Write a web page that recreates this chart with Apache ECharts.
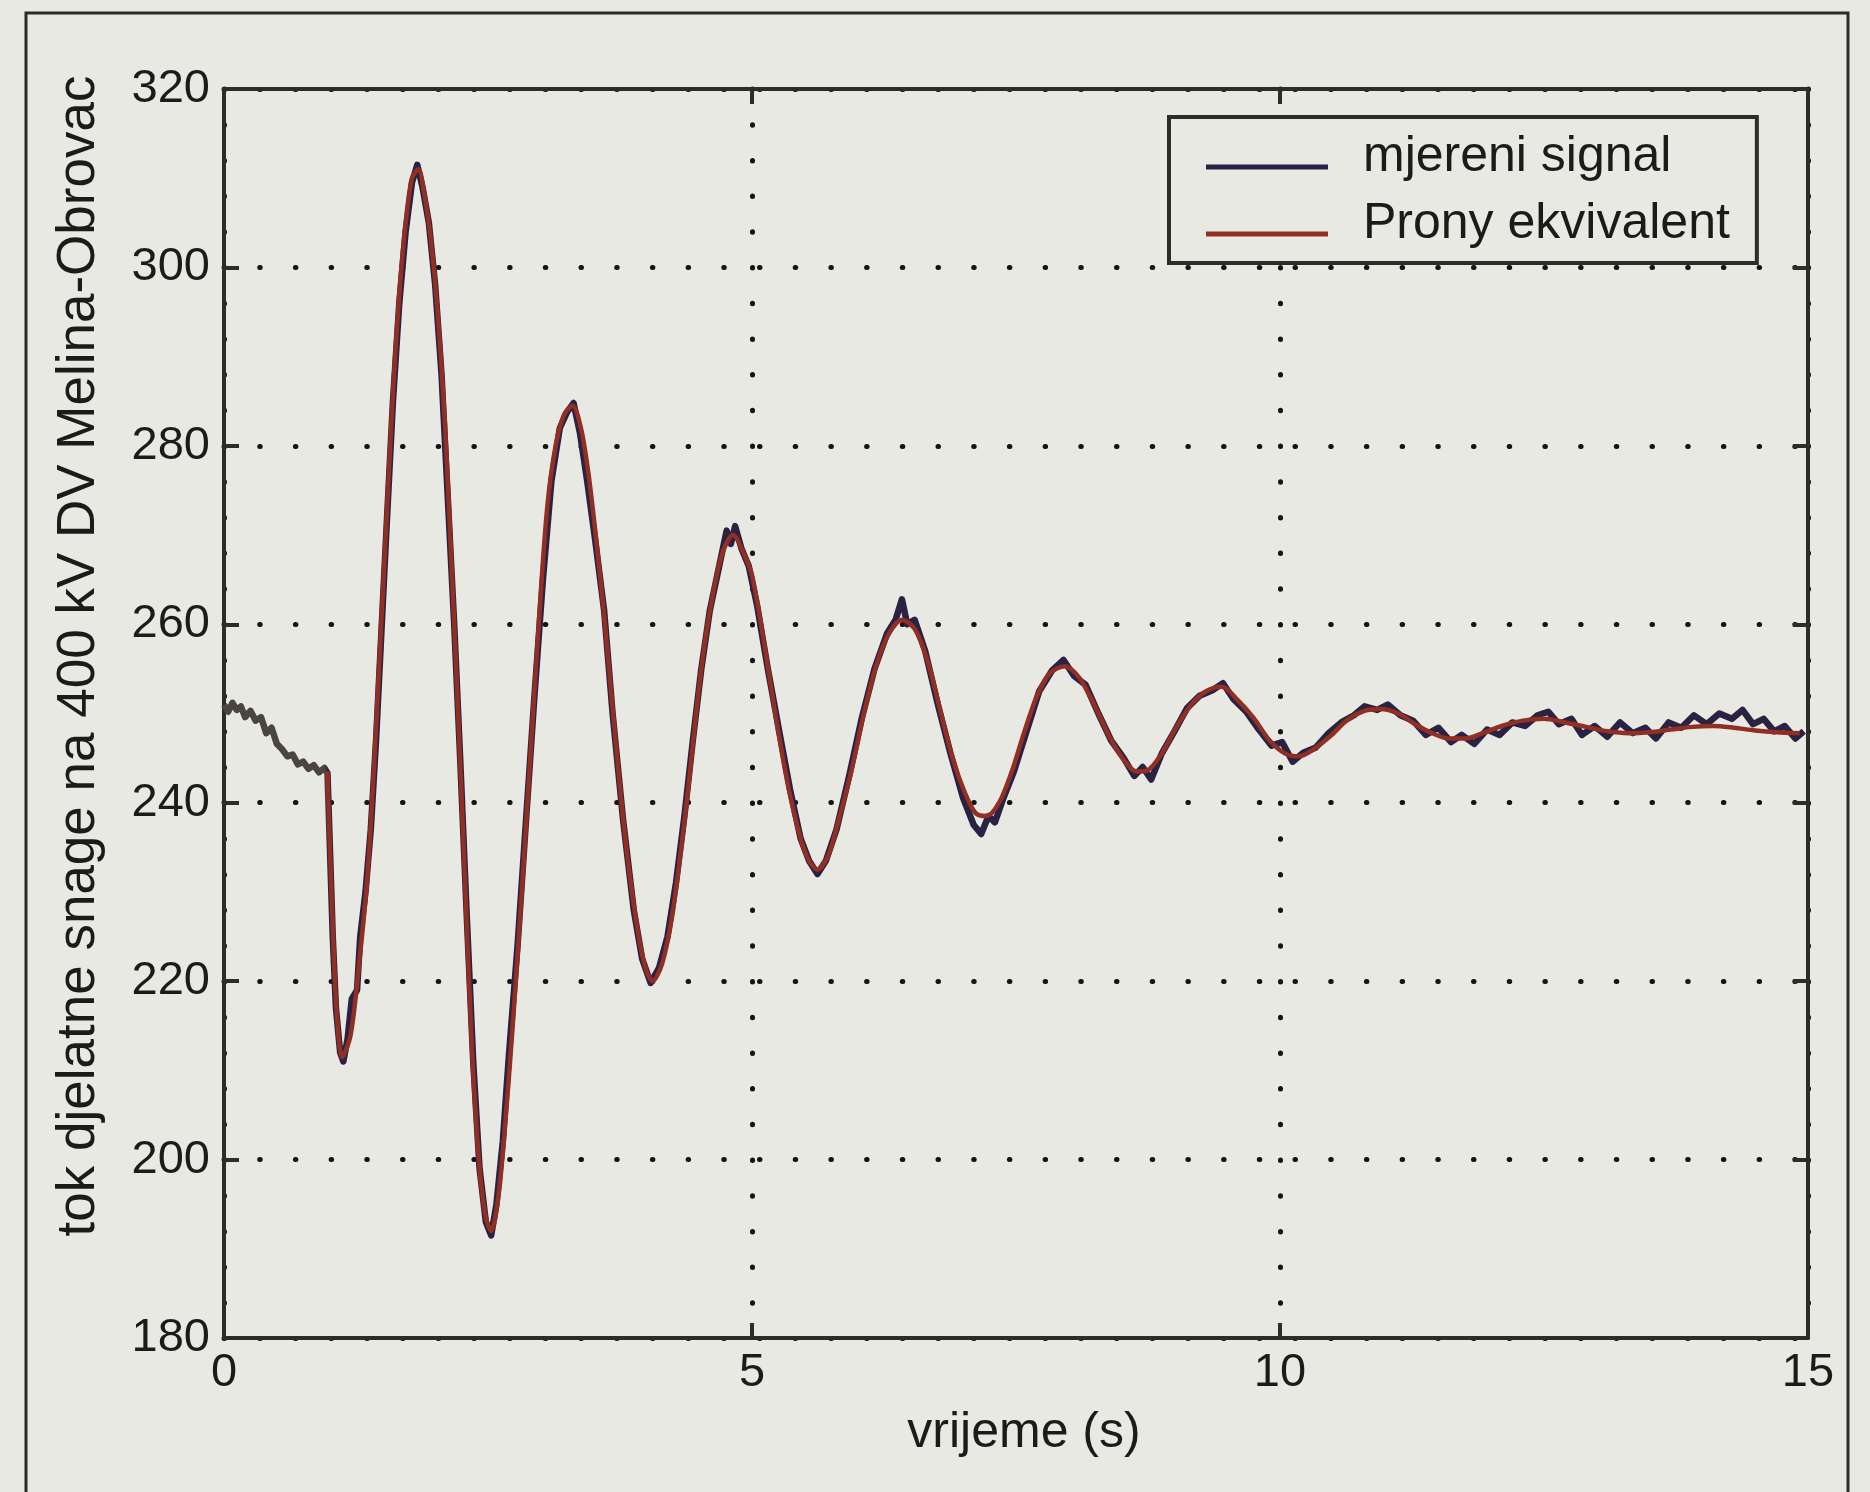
<!DOCTYPE html>
<html>
<head>
<meta charset="utf-8">
<script src="https://cdn.jsdelivr.net/npm/echarts@6/dist/echarts.min.js"></script>
<style>
  html, body { margin: 0; padding: 0; background: #e8e9e2; }
  #chart { width: 1870px; height: 1492px; }
</style>
</head>
<body>
<div id="chart"></div>
<script>
// mjereni signal (measured), t in s, P in MW
const tMeas = [
  0.00, 0.04, 0.08, 0.12, 0.16, 0.20, 0.25, 0.30, 0.35, 0.40, 0.45, 0.50, 0.55, 0.60, 0.65, 0.70,
  0.75, 0.80, 0.85, 0.90, 0.95, 0.98, 1.00, 1.03, 1.06, 1.10, 1.13, 1.17, 1.21, 1.26, 1.29, 1.34,
  1.39, 1.44, 1.49, 1.54, 1.60, 1.66, 1.72, 1.78, 1.83, 1.88, 1.94, 2.00, 2.06, 2.12, 2.18, 2.24,
  2.30, 2.36, 2.42, 2.48, 2.53, 2.58, 2.64, 2.70, 2.78, 2.86, 2.94, 3.02, 3.10, 3.18, 3.25, 3.31,
  3.37, 3.44, 3.52, 3.60, 3.68, 3.78, 3.88, 3.96, 4.04, 4.12, 4.20, 4.28, 4.36, 4.44, 4.52, 4.60,
  4.68, 4.76, 4.80, 4.84, 4.90, 4.97, 5.05, 5.15, 5.25, 5.36, 5.46, 5.54, 5.62, 5.70, 5.80, 5.92,
  6.04, 6.16, 6.28, 6.36, 6.42, 6.47, 6.54, 6.64, 6.76, 6.88, 7.00, 7.10, 7.17, 7.24, 7.30, 7.38,
  7.48, 7.60, 7.72, 7.84, 7.95, 8.05, 8.16, 8.28, 8.40, 8.52, 8.62, 8.70, 8.78, 8.88, 9.00, 9.12,
  9.24, 9.36, 9.46, 9.56, 9.68, 9.80, 9.92, 10.02, 10.12, 10.22, 10.34, 10.46, 10.58, 10.70, 10.80, 10.92,
  11.02, 11.14, 11.26, 11.38, 11.50, 11.62, 11.72, 11.84, 11.96, 12.08, 12.20, 12.32, 12.44, 12.54, 12.64, 12.76,
  12.86, 12.98, 13.10, 13.22, 13.34, 13.46, 13.56, 13.68, 13.80, 13.92, 14.04, 14.16, 14.28, 14.38, 14.48, 14.58,
  14.68, 14.78, 14.88, 14.96
];
const vMeas = [
  251.0, 250.2, 251.2, 250.4, 250.8, 249.6, 250.3, 249.2, 249.6, 247.8, 248.4, 246.6, 246.0, 245.2, 245.4, 244.3,
  244.6, 243.8, 244.2, 243.4, 243.9, 243.3, 236.0, 225.0, 217.0, 212.0, 211.0, 213.5, 218.0, 219.0, 225.0, 230.0,
  237.0, 247.0, 259.0, 271.0, 285.0, 296.0, 304.0, 309.5, 311.5, 309.0, 305.0, 298.0, 288.0, 274.0, 260.0, 244.0,
  227.0, 211.0, 199.0, 193.0, 191.5, 195.0, 202.0, 212.0, 224.0, 238.0, 252.0, 265.0, 276.0, 282.0, 283.8, 284.8,
  281.5, 276.0, 269.0, 261.5, 250.0, 238.0, 228.0, 222.5, 219.8, 221.5, 225.0, 231.0, 238.5, 247.0, 255.0, 261.5,
  266.0, 270.5, 269.0, 271.0, 268.5, 266.5, 262.0, 255.0, 248.5, 241.5, 236.0, 233.5, 232.0, 233.5, 237.0, 243.0,
  249.5, 255.0, 259.0, 260.5, 262.8, 260.0, 260.5, 257.0, 251.0, 245.5, 240.5, 237.5, 236.5, 238.5, 237.8, 240.5,
  243.5, 248.0, 252.5, 254.8, 256.0, 254.2, 253.2, 250.0, 247.0, 245.0, 243.0, 244.0, 242.6, 245.5, 248.0, 250.6,
  252.0, 252.6, 253.4, 251.6, 250.2, 248.2, 246.4, 246.8, 244.6, 245.6, 246.2, 247.8, 249.0, 249.8, 250.8, 250.4,
  251.0, 249.8, 249.2, 247.6, 248.4, 246.8, 247.6, 246.6, 248.2, 247.6, 249.0, 248.6, 249.8, 250.2, 248.8, 249.4,
  247.6, 248.6, 247.4, 249.0, 247.8, 248.4, 247.2, 249.0, 248.4, 249.8, 248.8, 250.0, 249.4, 250.4, 248.8, 249.4,
  248.0, 248.6, 247.2, 248.0
];

// Prony ekvivalent
const tProny = [
  0.98, 1.00, 1.03, 1.07, 1.12, 1.20, 1.28, 1.36, 1.42, 1.48, 1.54, 1.60, 1.66, 1.72, 1.78, 1.84,
  1.90, 1.96, 2.02, 2.09, 2.15, 2.21, 2.28, 2.35, 2.42, 2.48, 2.53, 2.60, 2.67, 2.74, 2.82, 2.90,
  2.98, 3.06, 3.14, 3.22, 3.30, 3.38, 3.45, 3.52, 3.60, 3.70, 3.80, 3.90, 3.98, 4.06, 4.15, 4.24,
  4.32, 4.40, 4.48, 4.56, 4.64, 4.72, 4.82, 4.92, 5.00, 5.10, 5.22, 5.34, 5.46, 5.54, 5.62, 5.72,
  5.82, 5.94, 6.06, 6.18, 6.30, 6.42, 6.54, 6.66, 6.78, 6.90, 7.02, 7.12, 7.22, 7.34, 7.46, 7.58,
  7.70, 7.82, 7.96, 8.10, 8.24, 8.38, 8.52, 8.64, 8.74, 8.88, 9.02, 9.16, 9.30, 9.45, 9.60, 9.75,
  9.90, 10.05, 10.18, 10.32, 10.48, 10.64, 10.80, 10.95, 11.12, 11.28, 11.44, 11.60, 11.76, 11.92, 12.10, 12.30,
  12.50, 12.70, 12.90, 13.10, 13.30, 13.50, 13.70, 13.90, 14.10, 14.30, 14.50, 14.70, 14.92
];
const vProny = [
  243.5, 236.0, 226.0, 216.0, 211.5, 214.0, 222.0, 232.0, 244.0, 258.0, 272.0, 286.0, 297.0, 305.0, 310.0, 311.0,
  308.0, 303.0, 295.5, 283.0, 268.0, 252.0, 232.0, 212.0, 199.0, 193.5, 192.0, 196.0, 205.0, 216.0, 230.0, 245.0,
  260.0, 273.0, 280.0, 283.5, 284.5, 282.0, 277.0, 270.0, 261.0, 248.0, 236.0, 227.0, 222.0, 220.0, 222.0, 227.0,
  234.0, 242.0, 251.0, 258.5, 264.0, 268.0, 270.0, 268.0, 265.5, 259.0, 250.0, 242.0, 236.0, 233.5, 232.5, 234.0,
  238.0, 243.5, 250.0, 255.5, 259.0, 260.5, 259.5, 256.0, 250.5, 245.0, 241.0, 238.8, 238.5, 240.0, 243.5, 248.0,
  252.0, 254.5, 255.3, 254.0, 251.0, 247.5, 244.8, 243.5, 243.6, 245.5, 248.5, 251.0, 252.5, 253.0, 251.5, 249.5,
  247.0, 245.5, 245.2, 246.0, 247.5, 249.3, 250.3, 250.5, 250.0, 248.8, 247.8, 247.2, 247.2, 247.8, 248.6, 249.2,
  249.4, 249.0, 248.5, 248.0, 247.8, 247.9, 248.2, 248.5, 248.6, 248.4, 248.1, 247.9, 247.8
];

const seriesNames = ['mjereni signal', 'Prony ekvivalent'];
const yTitle = 'tok djelatne snage na 400 kV DV Melina-Obrovac';
const xTitle = 'vrijeme (s)';

const FONT = '"Liberation Sans", Arial, Helvetica, sans-serif';
const INK = '#1c1b1a';
const FRAME = '#2f2b28';
const MEAS = '#2b2142';
const MEAS_START = '#4a4541';
const PRONY = '#922f25';

const chart = echarts.init(document.getElementById('chart'), null, { renderer: 'canvas' });

const dotted = {
  show: true,
  lineStyle: { color: '#141414', width: 5, type: [0.5, 35.2], cap: 'round' }
};
const tick = { show: true, inside: true, length: 15, lineStyle: { color: FRAME, width: 4 } };
const frameLine = { show: true, onZero: false, lineStyle: { color: FRAME, width: 4 } };

// measured starts grey-ish before the disturbance
const cut = 0.98 / 14.96;
const measColor = new echarts.graphic.LinearGradient(0, 0, 1, 0, [
  { offset: 0, color: MEAS_START },
  { offset: cut, color: MEAS_START },
  { offset: cut + 0.002, color: MEAS },
  { offset: 1, color: MEAS }
]);

// legend sample line sits a little below the text middle
const legendLine = 'path://M0,0 L122,0 M0,20 L122,20 L122,25 L0,25 Z';

chart.setOption({
  animation: false,
  backgroundColor: '#e8e9e2',
  grid: { left: 224, top: 89, width: 1584, height: 1249, containLabel: false, outerBoundsMode: 'none' },
  xAxis: [{
    type: 'value', min: 0, max: 15, interval: 5,
    axisLine: frameLine, axisTick: tick, splitLine: dotted,
    axisLabel: { color: INK, fontFamily: FONT, fontSize: 47, margin: 12 },
    name: xTitle, nameLocation: 'middle', nameGap: 70,
    nameTextStyle: { color: INK, fontFamily: FONT, fontSize: 50, padding: [0, 0, 0, 16] }
  }, {
    type: 'value', min: 0, max: 15, interval: 5, position: 'top',
    axisLine: frameLine, axisTick: tick, splitLine: { show: false }, axisLabel: { show: false }
  }],
  yAxis: [{
    type: 'value', min: 180, max: 320, interval: 20,
    axisLine: frameLine, axisTick: tick, splitLine: dotted,
    axisLabel: { color: INK, fontFamily: FONT, fontSize: 47, margin: 14 }
  }, {
    type: 'value', min: 180, max: 320, interval: 20, position: 'right',
    axisLine: frameLine, axisTick: tick, splitLine: { show: false }, axisLabel: { show: false }
  }],
  legend: {
    orient: 'vertical', left: 1169, top: 117,
    padding: [15, 27, 14, 37], itemGap: 17, itemWidth: 122, itemHeight: 25,
    icon: legendLine,
    backgroundColor: '#e8e9e2', borderColor: FRAME, borderWidth: 4,
    textStyle: { color: INK, fontFamily: FONT, fontSize: 50, padding: [0, 0, 0, 30] },
    data: [
      { name: seriesNames[0], itemStyle: { color: MEAS } },
      { name: seriesNames[1], itemStyle: { color: PRONY } }
    ]
  },
  graphic: [{
    type: 'rect', silent: true, z: -1,
    shape: { x: 26, y: 13, width: 1822, height: 1500 },
    style: { fill: 'none', stroke: FRAME, lineWidth: 3 }
  }, {
    type: 'text', x: 79, y: 656, rotation: Math.PI / 2,
    style: {
      text: yTitle, fill: INK, font: '53px ' + FONT,
      textAlign: 'center', textVerticalAlign: 'middle'
    }
  }],
  series: [{
    name: seriesNames[0], type: 'line', symbol: 'none',
    data: tMeas.map((t, i) => [t, vMeas[i]]),
    lineStyle: { color: measColor, width: 6.5, join: 'round' },
    itemStyle: { color: MEAS }, z: 2
  }, {
    name: seriesNames[1], type: 'line', symbol: 'none', smooth: 0.3,
    data: tProny.map((t, i) => [t, vProny[i]]),
    lineStyle: { color: PRONY, width: 4.5 },
    itemStyle: { color: PRONY }, z: 3
  }]
});
</script>
</body>
</html>
